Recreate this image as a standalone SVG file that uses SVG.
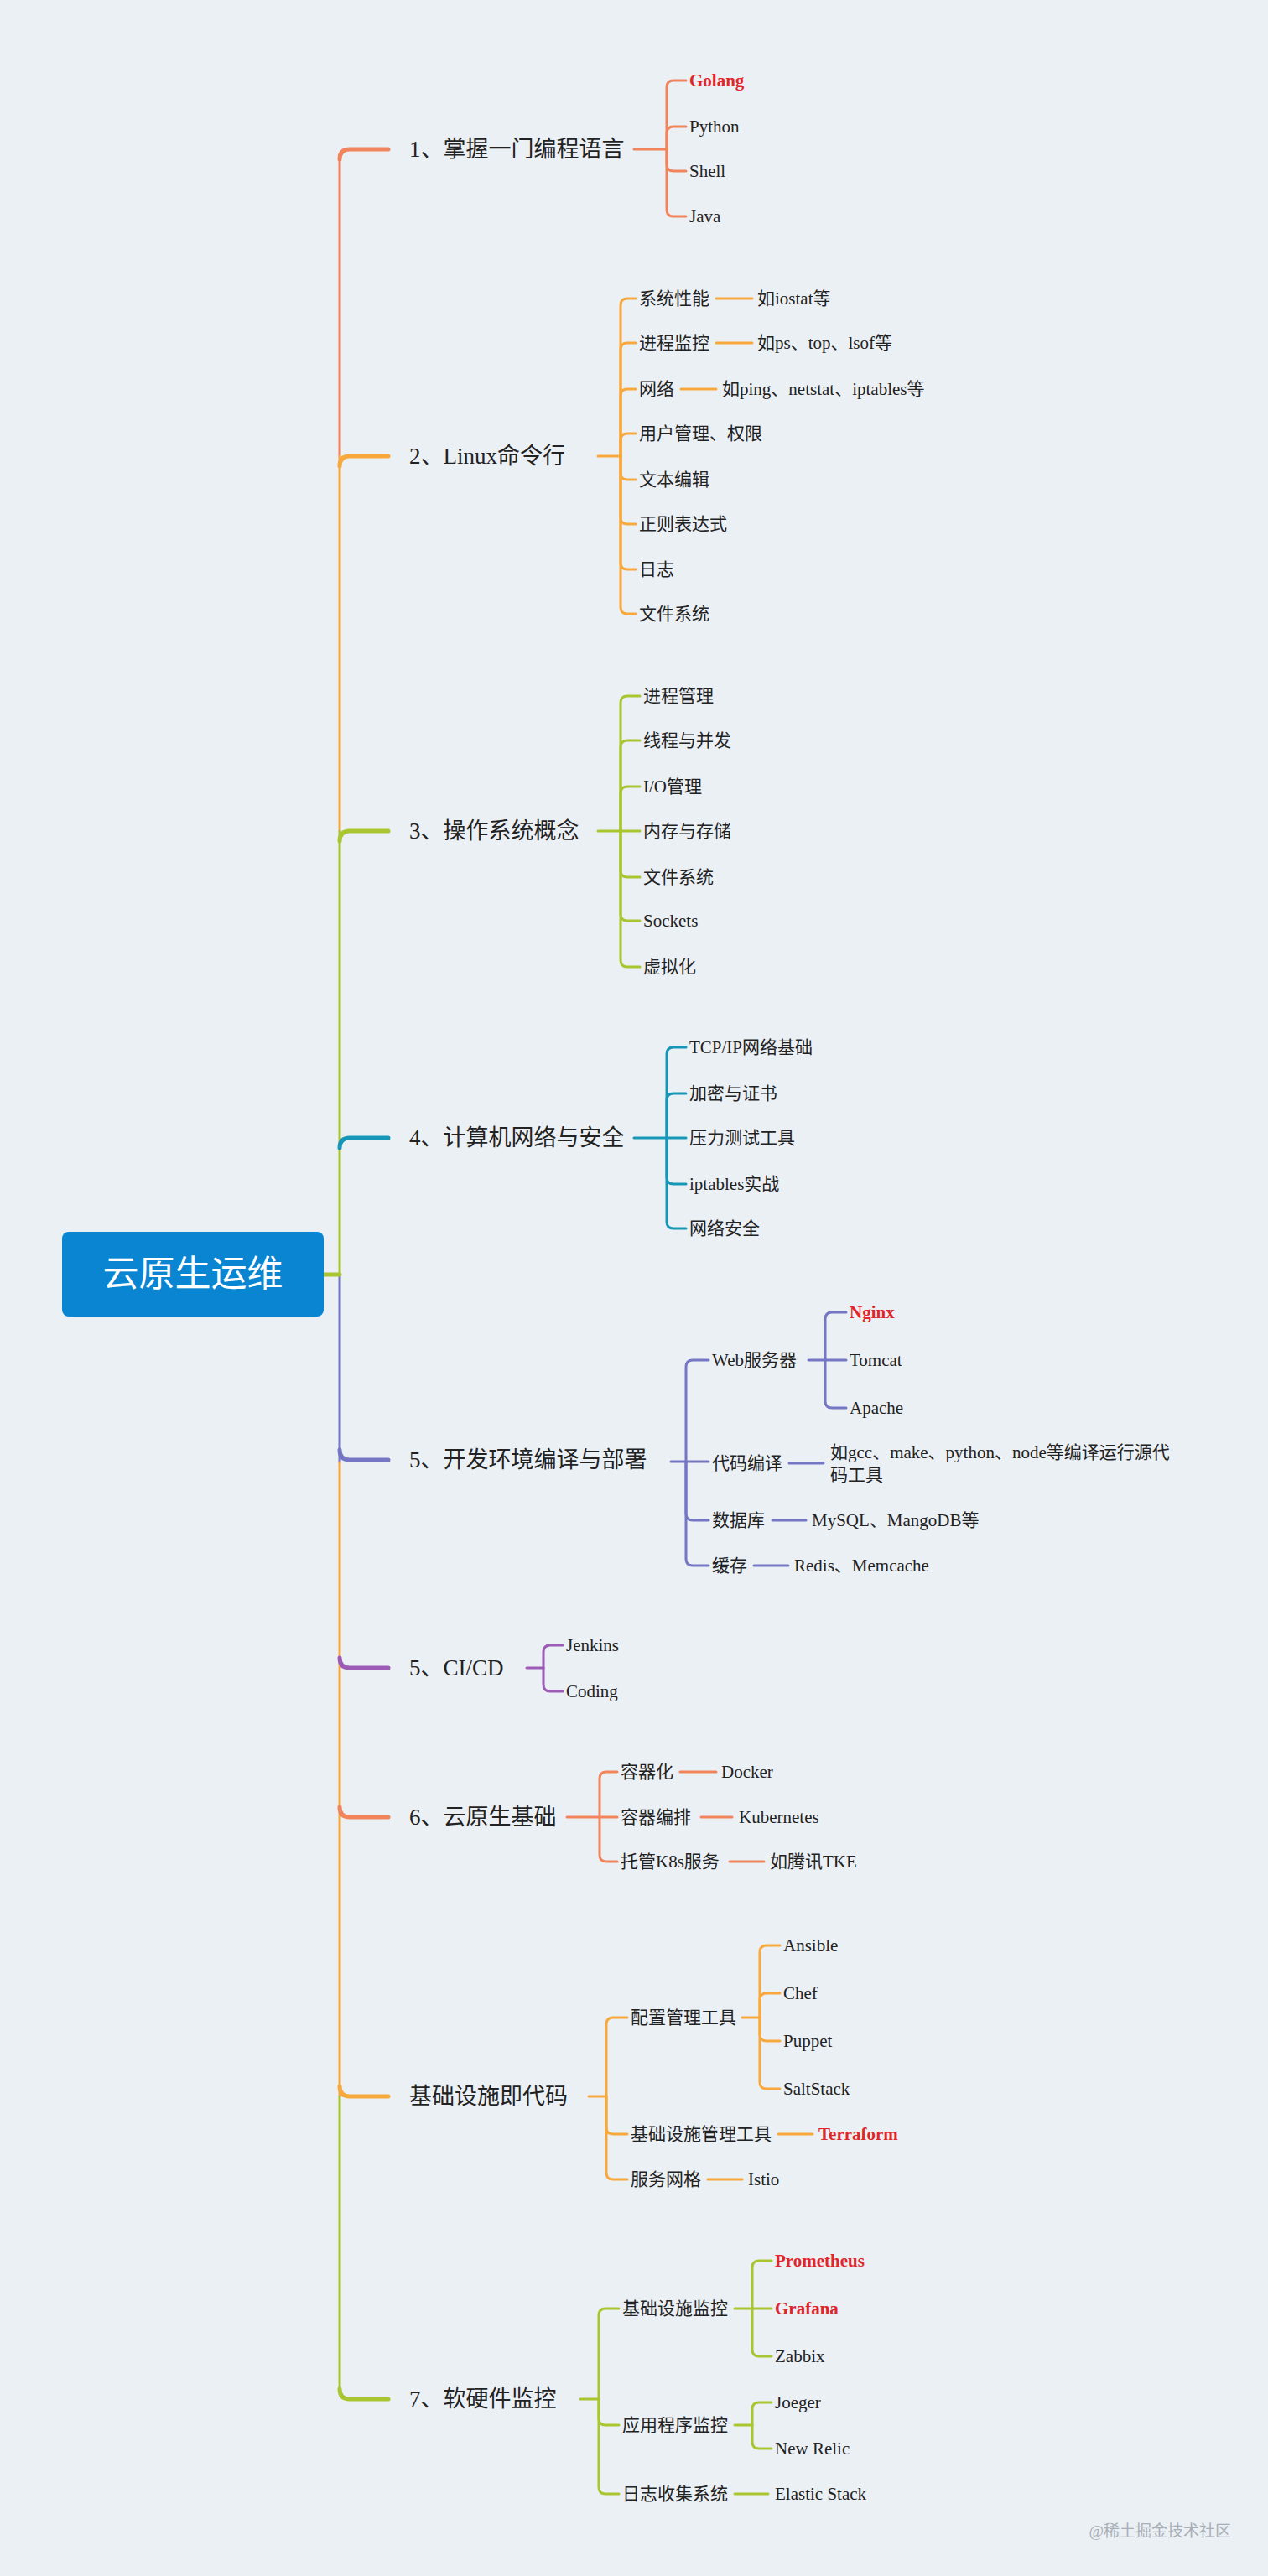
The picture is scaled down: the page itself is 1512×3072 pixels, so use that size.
<svg xmlns="http://www.w3.org/2000/svg" width="1512" height="3072" viewBox="0 0 1512 3072">
<style>
text{font-family:"Liberation Serif","Noto Sans CJK SC",serif;fill:#222;dominant-baseline:central}
.m{font-size:27px}
.s{font-size:21px}
.r{fill:#E0262A;font-weight:bold}
path,line{fill:none;stroke-linecap:round}
.c1{stroke:#F2845C}.c2{stroke:#F9A83C}.c3{stroke:#A9C52F}.c4{stroke:#1697B7}.c5{stroke:#7576C4}.c6{stroke:#9C5BB5}
.w{stroke-width:3}.t{stroke-width:5}
</style>
<rect width="1512" height="3072" fill="#EBF0F5"/>
<g id="connectors">
<line class="c1 w" x1="405" y1="186" x2="405" y2="544"/>
<line class="c2 w" x1="405" y1="544" x2="405" y2="991"/>
<line class="c3 w" x1="405" y1="991" x2="405" y2="1520"/>
<line class="c5 w" x1="405" y1="1520" x2="405" y2="1744"/>
<line class="c2 w" x1="405" y1="1744" x2="405" y2="2500"/>
<line class="c3 w" x1="405" y1="2500" x2="405" y2="2853"/>
<line class="c3 t" x1="386" y1="1520" x2="405" y2="1520"/>
<path class="c1 t" d="M405 190 Q405 178 417 178 L463 178"/>
<path class="c2 t" d="M405 556 Q405 544 417 544 L463 544"/>
<path class="c3 t" d="M405 1003 Q405 991 417 991 L463 991"/>
<path class="c4 t" d="M405 1369 Q405 1357 417 1357 L463 1357"/>
<path class="c5 t" d="M405 1729 Q405 1741 417 1741 L463 1741"/>
<path class="c6 t" d="M405 1977 Q405 1989 417 1989 L463 1989"/>
<path class="c1 t" d="M405 2155 Q405 2167 417 2167 L463 2167"/>
<path class="c2 t" d="M405 2488 Q405 2500 417 2500 L463 2500"/>
<path class="c3 t" d="M405 2849 Q405 2861 417 2861 L463 2861"/>
<!-- b1 -->
<g class="c1 w">
<line x1="756" y1="178" x2="795" y2="178"/>
<path d="M795 178 L795 104 Q795 96 803 96 L818 96"/>
<path d="M795 178 L795 159 Q795 151 803 151 L818 151"/>
<path d="M795 178 L795 196 Q795 204 803 204 L818 204"/>
<path d="M795 178 L795 250 Q795 258 803 258 L818 258"/>
</g>
<g class="c2 w">
<line x1="713" y1="544" x2="740" y2="544"/>
<path d="M740 544 L740 364 Q740 356 748 356 L758 356"/>
<path d="M740 544 L740 417 Q740 409 748 409 L758 409"/>
<path d="M740 544 L740 472 Q740 464 748 464 L758 464"/>
<path d="M740 544 L740 525 Q740 517 748 517 L758 517"/>
<path d="M740 544 L740 564 Q740 572 748 572 L758 572"/>
<path d="M740 544 L740 617 Q740 625 748 625 L758 625"/>
<path d="M740 544 L740 671 Q740 679 748 679 L758 679"/>
<path d="M740 544 L740 724 Q740 732 748 732 L758 732"/>
<line x1="854" y1="356" x2="897" y2="356"/>
<line x1="854" y1="409" x2="897" y2="409"/>
<line x1="812" y1="464" x2="854" y2="464"/>
</g>
<g class="c3 w">
<line x1="713" y1="991" x2="740" y2="991"/>
<path d="M740 991 L740 838 Q740 830 748 830 L763 830"/>
<path d="M740 991 L740 891 Q740 883 748 883 L763 883"/>
<path d="M740 991 L740 946 Q740 938 748 938 L763 938"/>
<line x1="740" y1="991" x2="763" y2="991"/>
<path d="M740 991 L740 1038 Q740 1046 748 1046 L763 1046"/>
<path d="M740 991 L740 1090 Q740 1098 748 1098 L763 1098"/>
<path d="M740 991 L740 1145 Q740 1153 748 1153 L763 1153"/>
</g>
<g class="c4 w">
<line x1="756" y1="1357" x2="818" y2="1357"/>
<path d="M795 1357 L795 1257 Q795 1249 803 1249 L818 1249"/>
<path d="M795 1357 L795 1312 Q795 1304 803 1304 L818 1304"/>
<path d="M795 1357 L795 1404 Q795 1412 803 1412 L818 1412"/>
<path d="M795 1357 L795 1457 Q795 1465 803 1465 L818 1465"/>
</g>
<g class="c5 w">
<line x1="800" y1="1743" x2="845" y2="1743"/>
<path d="M818 1743 L818 1630 Q818 1622 826 1622 L845 1622"/>
<path d="M818 1743 L818 1805 Q818 1813 826 1813 L845 1813"/>
<path d="M818 1743 L818 1859 Q818 1867 826 1867 L845 1867"/>
<line x1="964" y1="1622" x2="1009" y2="1622"/>
<path d="M984 1622 L984 1573 Q984 1565 992 1565 L1009 1565"/>
<path d="M984 1622 L984 1671 Q984 1679 992 1679 L1009 1679"/>
<line x1="941" y1="1745" x2="982" y2="1745"/>
<line x1="921" y1="1813" x2="961" y2="1813"/>
<line x1="899" y1="1867" x2="940" y2="1867"/>
</g>
<g class="c6 w">
<line x1="628" y1="1989" x2="648" y2="1989"/>
<path d="M648 1989 L648 1970 Q648 1962 656 1962 L671 1962"/>
<path d="M648 1989 L648 2009 Q648 2017 656 2017 L671 2017"/>
</g>
<g class="c1 w">
<line x1="676" y1="2167" x2="736" y2="2167"/>
<path d="M715 2167 L715 2121 Q715 2113 723 2113 L736 2113"/>
<path d="M715 2167 L715 2212 Q715 2220 723 2220 L736 2220"/>
<line x1="811" y1="2113" x2="854" y2="2113"/>
<line x1="836" y1="2167" x2="873" y2="2167"/>
<line x1="870" y1="2220" x2="911" y2="2220"/>
</g>
<g class="c2 w">
<line x1="702" y1="2500" x2="723" y2="2500"/>
<path d="M723 2500 L723 2414 Q723 2406 731 2406 L748 2406"/>
<path d="M723 2500 L723 2537 Q723 2545 731 2545 L748 2545"/>
<path d="M723 2500 L723 2591 Q723 2599 731 2599 L748 2599"/>
<line x1="885" y1="2406" x2="906" y2="2406"/>
<path d="M906 2406 L906 2328 Q906 2320 914 2320 L930 2320"/>
<path d="M906 2406 L906 2385 Q906 2377 914 2377 L930 2377"/>
<path d="M906 2406 L906 2426 Q906 2434 914 2434 L930 2434"/>
<path d="M906 2406 L906 2483 Q906 2491 914 2491 L930 2491"/>
<line x1="928" y1="2545" x2="969" y2="2545"/>
<line x1="844" y1="2599" x2="885" y2="2599"/>
</g>
<g class="c3 w">
<line x1="692" y1="2861" x2="714" y2="2861"/>
<path d="M714 2861 L714 2761 Q714 2753 722 2753 L738 2753"/>
<path d="M714 2861 L714 2884 Q714 2892 722 2892 L738 2892"/>
<path d="M714 2861 L714 2966 Q714 2974 722 2974 L738 2974"/>
<line x1="876" y1="2753" x2="920" y2="2753"/>
<path d="M897 2753 L897 2704 Q897 2696 905 2696 L920 2696"/>
<path d="M897 2753 L897 2802 Q897 2810 905 2810 L920 2810"/>
<line x1="876" y1="2892" x2="897" y2="2892"/>
<path d="M897 2892 L897 2873 Q897 2865 905 2865 L920 2865"/>
<path d="M897 2892 L897 2912 Q897 2920 905 2920 L920 2920"/>
<line x1="876" y1="2974" x2="916" y2="2974"/>
</g>
</g>
<g id="root"><rect x="74" y="1469" width="312" height="101" rx="8" fill="#0A85D1"/><text x="230" y="1519" font-size="43" text-anchor="middle" style="fill:#fff">云原生运维</text></g>
<g id="b1"><text class="m" x="488" y="178">1、掌握一门编程语言</text>
<text class="s r" x="822" y="96">Golang</text><text class="s" x="822" y="151">Python</text><text class="s" x="822" y="204">Shell</text><text class="s" x="822" y="258">Java</text></g>
<g id="b2"><text class="m" x="488" y="544">2、Linux命令行</text>
<text class="s" x="762" y="356">系统性能</text><text class="s" x="903" y="356">如iostat等</text>
<text class="s" x="762" y="409">进程监控</text><text class="s" x="903" y="409">如ps、top、lsof等</text>
<text class="s" x="762" y="464">网络</text><text class="s" x="861" y="464">如ping、netstat、iptables等</text>
<text class="s" x="762" y="517">用户管理、权限</text><text class="s" x="762" y="572">文本编辑</text><text class="s" x="762" y="625">正则表达式</text><text class="s" x="762" y="679">日志</text><text class="s" x="762" y="732">文件系统</text></g>
<g id="b3"><text class="m" x="488" y="991">3、操作系统概念</text>
<text class="s" x="767" y="830">进程管理</text><text class="s" x="767" y="883">线程与并发</text><text class="s" x="767" y="938">I/O管理</text><text class="s" x="767" y="991">内存与存储</text><text class="s" x="767" y="1046">文件系统</text><text class="s" x="767" y="1098">Sockets</text><text class="s" x="767" y="1153">虚拟化</text></g>
<g id="b4"><text class="m" x="488" y="1357">4、计算机网络与安全</text>
<text class="s" x="822" y="1249">TCP/IP网络基础</text><text class="s" x="822" y="1304">加密与证书</text><text class="s" x="822" y="1357">压力测试工具</text><text class="s" x="822" y="1412">iptables实战</text><text class="s" x="822" y="1465">网络安全</text></g>
<g id="b5"><text class="m" x="488" y="1741">5、开发环境编译与部署</text>
<text class="s" x="849" y="1622">Web服务器</text>
<text class="s r" x="1013" y="1565" style="font-weight:bold">Nginx</text><text class="s" x="1013" y="1622">Tomcat</text><text class="s" x="1013" y="1679">Apache</text>
<text class="s" x="849" y="1745">代码编译</text><text class="s" x="990" y="1732">如gcc、make、python、node等编译运行源代</text><text class="s" x="990" y="1759">码工具</text>
<text class="s" x="849" y="1813">数据库</text><text class="s" x="968" y="1813">MySQL、MangoDB等</text>
<text class="s" x="849" y="1867">缓存</text><text class="s" x="947" y="1867">Redis、Memcache</text></g>
<g id="b5ci"><text class="m" x="488" y="1989">5、CI/CD</text><text class="s" x="675" y="1962">Jenkins</text><text class="s" x="675" y="2017">Coding</text></g>
<g id="b6"><text class="m" x="488" y="2167">6、云原生基础</text>
<text class="s" x="740" y="2113">容器化</text><text class="s" x="860" y="2113">Docker</text>
<text class="s" x="740" y="2167">容器编排</text><text class="s" x="881" y="2167">Kubernetes</text>
<text class="s" x="740" y="2220">托管K8s服务</text><text class="s" x="918" y="2220">如腾讯TKE</text></g>
<g id="biac"><text class="m" x="488" y="2500">基础设施即代码</text>
<text class="s" x="752" y="2406">配置管理工具</text>
<text class="s" x="934" y="2320">Ansible</text><text class="s" x="934" y="2377">Chef</text><text class="s" x="934" y="2434">Puppet</text><text class="s" x="934" y="2491">SaltStack</text>
<text class="s" x="752" y="2545">基础设施管理工具</text><text class="s r" x="976" y="2545">Terraform</text>
<text class="s" x="752" y="2599">服务网格</text><text class="s" x="892" y="2599">Istio</text></g>
<g id="b7"><text class="m" x="488" y="2861">7、软硬件监控</text>
<text class="s" x="742" y="2753">基础设施监控</text>
<text class="s r" x="924" y="2696">Prometheus</text><text class="s r" x="924" y="2753">Grafana</text><text class="s" x="924" y="2810">Zabbix</text>
<text class="s" x="742" y="2892">应用程序监控</text><text class="s" x="924" y="2865">Joeger</text><text class="s" x="924" y="2920">New Relic</text>
<text class="s" x="742" y="2974">日志收集系统</text><text class="s" x="924" y="2974">Elastic Stack</text></g>
<text x="1468" y="3018" font-size="19" text-anchor="end" style="fill:#A8AEB5">@稀土掘金技术社区</text>
</svg>
